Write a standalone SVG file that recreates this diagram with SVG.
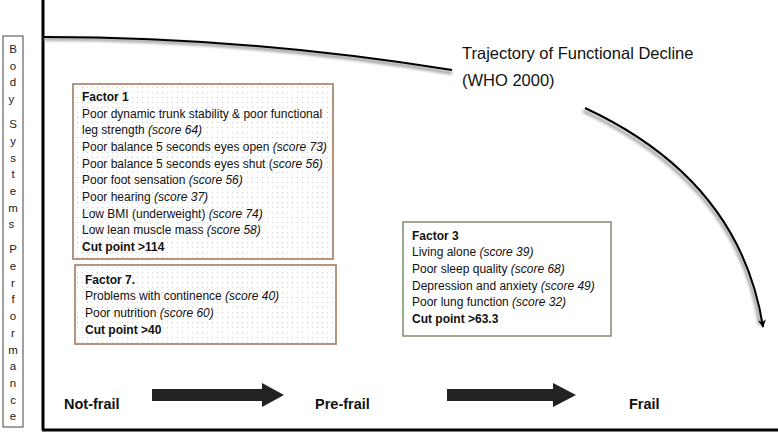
<svg xmlns="http://www.w3.org/2000/svg" width="778" height="434" viewBox="0 0 778 434">
<style>
.t{font-family:"Liberation Sans",Arial,sans-serif;font-size:12px;fill:#111}
.b{font-weight:bold}
.i{font-style:italic}
.lbl{font-family:"Liberation Sans",Arial,sans-serif;font-size:11.5px;fill:#222;text-anchor:middle}
.stage{font-family:"Liberation Sans",Arial,sans-serif;font-size:14.5px;font-weight:bold;fill:#111}
.title{font-family:"Liberation Sans",Arial,sans-serif;font-size:16.5px;fill:#111}
.brown{fill:url(#dots);stroke:#ad8a70;stroke-width:1.8}
.green{fill:#fff;stroke:#7f8c70;stroke-width:1.5}
.curve{fill:none;stroke:#000;stroke-width:2}
.shadow{fill:none;stroke:#999;stroke-width:3;filter:url(#blur)}
.block{fill:#222}
</style>
<defs>
<pattern id="dots" width="5" height="5" patternUnits="userSpaceOnUse">
<rect width="5" height="5" fill="#fff"/>
<circle cx="2.5" cy="2.5" r="0.55" fill="#c8c8c8"/>
</pattern>
<filter id="blur" x="-10%" y="-50%" width="120%" height="200%">
<feGaussianBlur stdDeviation="1.5"/>
</filter>
<marker id="ah" viewBox="0 0 10 10" refX="9" refY="5" markerWidth="9" markerHeight="8" markerUnits="userSpaceOnUse" orient="auto">
<path d="M0,0 L10,5 L0,10 L3,5 Z" fill="#000"/>
</marker>
</defs>
<rect width="778" height="434" fill="#fff"/>

<g id="axes">
<line x1="43" y1="0" x2="43" y2="430" stroke="#000" stroke-width="3"/>
<line x1="42" y1="430" x2="778" y2="430" stroke="#000" stroke-width="3"/>
</g>

<g id="body-label">
<rect x="3" y="36" width="20" height="391" fill="#fff" stroke="#444" stroke-width="1"/>
<text class="lbl">
<tspan x="13" y="53">B</tspan><tspan x="13" y="69.7">o</tspan><tspan x="13" y="86.4">d</tspan><tspan x="13" y="103.1">y</tspan>
<tspan x="13" y="128.1">S</tspan><tspan x="13" y="144.8">y</tspan><tspan x="13" y="161.5">s</tspan><tspan x="13" y="178.2">t</tspan><tspan x="13" y="194.9">e</tspan><tspan x="13" y="211.6">m</tspan><tspan x="13" y="228.3">s</tspan>
<tspan x="13" y="253.3">P</tspan><tspan x="13" y="270">e</tspan><tspan x="13" y="286.7">r</tspan><tspan x="13" y="303.4">f</tspan><tspan x="13" y="320.1">o</tspan><tspan x="13" y="336.8">r</tspan><tspan x="13" y="353.5">m</tspan><tspan x="13" y="370.2">a</tspan><tspan x="13" y="386.9">n</tspan><tspan x="13" y="403.6">c</tspan><tspan x="13" y="420.3">e</tspan>
</text>
</g>

<g id="connectors">
<path class="shadow" d="M44,39 Q247,39 452,73"/>
<path class="shadow" d="M583,111 Q738,183 760,325"/>
<path class="curve" d="M44,37 Q247,37 452,70"/>
<path class="curve" d="M585,108 Q740,180 763,327" marker-end="url(#ah)"/>
<polygon class="block" points="152,389 262,389 262,383 284,395 262,407 262,401 152,401"/>
<polygon class="block" points="447,389 553,389 553,383 576,395 553,407 553,401 447,401"/>
</g>

<g id="trajectory-title">
<text class="title" x="462" y="59">Trajectory of Functional Decline</text>
<text class="title" x="462" y="86">(WHO 2000)</text>
</g>

<g id="factor1">
<rect class="brown" x="73" y="84" width="260" height="175"/>
<text class="t b" x="82" y="101">Factor 1</text>
<text class="t" x="82" y="117.7">Poor dynamic trunk stability &amp; poor functional</text>
<text class="t" x="82" y="134.3">leg strength <tspan class="i">(score 64)</tspan></text>
<text class="t" x="82" y="151">Poor balance 5 seconds eyes open <tspan class="i">(score 73)</tspan></text>
<text class="t" x="82" y="167.7">Poor balance 5 seconds eyes shut (<tspan class="i">score 56)</tspan></text>
<text class="t" x="82" y="184.3">Poor foot sensation <tspan class="i">(score 56)</tspan></text>
<text class="t" x="82" y="201">Poor hearing <tspan class="i">(score 37)</tspan></text>
<text class="t" x="82" y="217.7">Low BMI (underweight) <tspan class="i">(score 74)</tspan></text>
<text class="t" x="82" y="234.3">Low lean muscle mass <tspan class="i">(score 58)</tspan></text>
<text class="t b" x="82" y="251">Cut point &gt;114</text>
</g>

<g id="factor7">
<rect class="brown" x="75" y="265" width="261" height="79"/>
<text class="t b" x="85" y="283.5">Factor 7.</text>
<text class="t" x="85" y="300.2">Problems with continence <tspan class="i">(score 40)</tspan></text>
<text class="t" x="85" y="316.9">Poor nutrition <tspan class="i">(score 60)</tspan></text>
<text class="t b" x="85" y="333.6">Cut point &gt;40</text>
</g>

<g id="factor3">
<rect class="green" x="403" y="222" width="208" height="114"/>
<text class="t b" x="412" y="239.5">Factor 3</text>
<text class="t" x="412" y="256.2">Living alone <tspan class="i">(score 39)</tspan></text>
<text class="t" x="412" y="272.9">Poor sleep quality <tspan class="i">(score 68)</tspan></text>
<text class="t" x="412" y="289.6">Depression and anxiety <tspan class="i">(score 49)</tspan></text>
<text class="t" x="412" y="306.3">Poor lung function <tspan class="i">(score 32)</tspan></text>
<text class="t b" x="412" y="323">Cut point &gt;63.3</text>
</g>

<g id="stage-not-frail"><text class="stage" x="64" y="409">Not-frail</text></g>
<g id="stage-pre-frail"><text class="stage" x="315" y="409">Pre-frail</text></g>
<g id="stage-frail"><text class="stage" x="629" y="409">Frail</text></g>
</svg>
